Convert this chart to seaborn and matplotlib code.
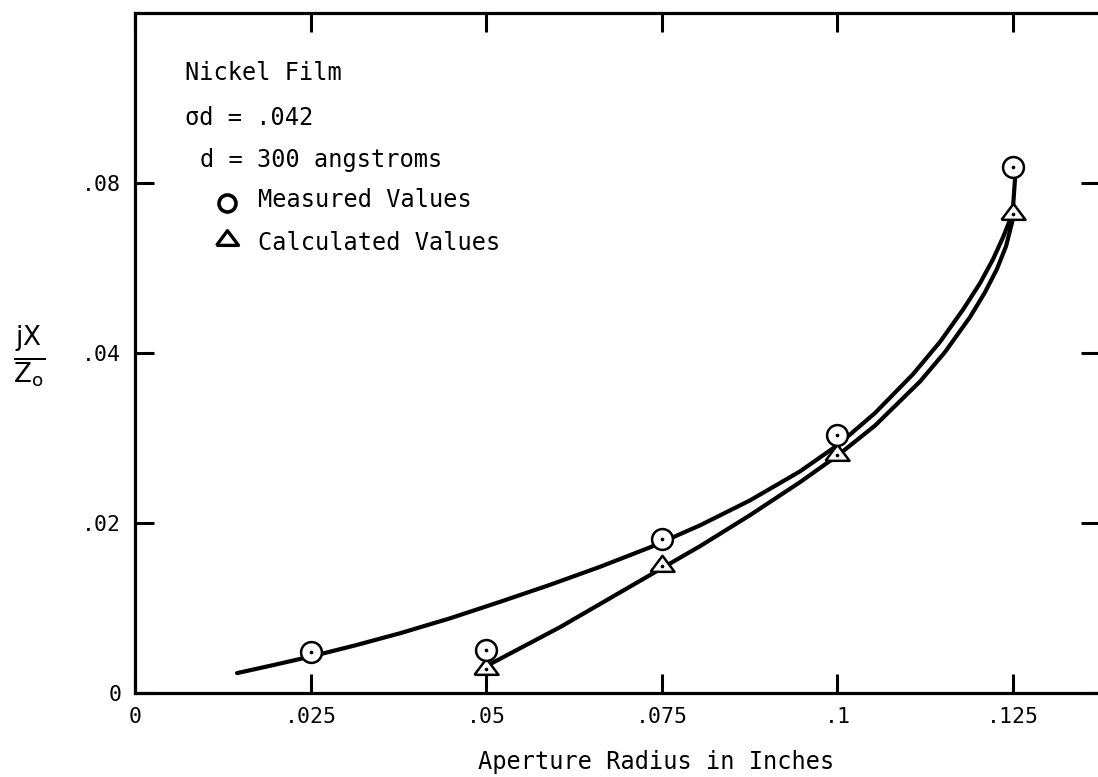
import matplotlib
matplotlib.use("Agg")
import numpy as np
import pandas as pd
import seaborn as sns
import matplotlib.pyplot as plt

# ---------------- data ----------------
x_ticks = [0, 0.025, 0.05, 0.075, 0.1, 0.125]
x_tick_labels = ["0", ".025", ".05", ".075", ".1", ".125"]
y_ticks = [0, 0.02, 0.04, 0.06]
y_tick_labels = ["0", ".02", ".04", ".08"]

measured_x = [0.025, 0.05, 0.075, 0.1, 0.125]
measured_y = [0.00482, 0.00506, 0.01812, 0.03035, 0.06188]

calculated_x = [0.05, 0.075, 0.1, 0.125]
calculated_y = [0.00282, 0.01494, 0.0280, 0.05635]

# hand-drawn curves
measured_curve_x = [0.01452, 0.01993, 0.02520, 0.03146, 0.03773, 0.04485, 0.05197,
                    0.05908, 0.06620, 0.07332, 0.08044, 0.08756, 0.09467, 0.10009,
                    0.10535, 0.11076, 0.11461, 0.11788, 0.12030, 0.12215, 0.12358,
                    0.12457, 0.12500, 0.12528]
measured_curve_y = [0.00235, 0.00334, 0.00434, 0.00564, 0.00704, 0.00880, 0.01074,
                    0.01274, 0.01486, 0.01715, 0.01974, 0.02268, 0.02609, 0.02922,
                    0.03296, 0.03753, 0.04134, 0.04513, 0.04824, 0.05106, 0.05365,
                    0.05571, 0.05729, 0.06059]
calculated_curve_x = [0.05054, 0.06051, 0.07503, 0.08044, 0.08756, 0.09467, 0.10009,
                      0.10535, 0.11176, 0.11532, 0.11888, 0.12101, 0.12272, 0.12400,
                      0.12500]
calculated_curve_y = [0.00341, 0.00776, 0.01471, 0.01729, 0.02094, 0.02482, 0.02800,
                      0.03148, 0.03667, 0.04014, 0.04426, 0.04718, 0.04993, 0.05259,
                      0.05588]

notes = ["Nickel Film", "\u03c3d = .042", "d = 300 angstroms"]
legend_labels = ["Measured Values", "Calculated Values"]
x_label = "Aperture Radius in Inches"

# ---------------- style ----------------
sns.set_style("ticks")
plt.rcParams["font.family"] = ["DejaVu Sans Mono", "DejaVu Sans"]
plt.rcParams["mathtext.fontset"] = "dejavusans"
for k in ["text.color", "axes.labelcolor", "xtick.color", "ytick.color", "axes.edgecolor"]:
    plt.rcParams[k] = "black"

fig = plt.figure(figsize=(10.98, 7.77), dpi=100)
ax = fig.add_axes([0.123, 0.108, 0.879, 0.875])

mc = pd.DataFrame({"x": measured_curve_x, "y": measured_curve_y})
cc = pd.DataFrame({"x": calculated_curve_x, "y": calculated_curve_y})
for df in (mc, cc):
    sns.lineplot(data=df, x="x", y="y", sort=False, estimator=None, color="black",
                 linewidth=3.0, ax=ax, zorder=2, solid_joinstyle="round",
                 solid_capstyle="round")

tri = [(-1.0, -0.444), (1.0, -0.444), (0.0, 0.889), (-1.0, -0.444)]

md = pd.DataFrame({"x": measured_x, "y": measured_y})
cd = pd.DataFrame({"x": calculated_x, "y": calculated_y})
sns.scatterplot(data=cd, x="x", y="y", marker=tri, s=300, facecolor="white",
                edgecolor="black", linewidth=1.8, ax=ax, zorder=3)
sns.scatterplot(data=md, x="x", y="y", marker="o", s=225, facecolor="white",
                edgecolor="black", linewidth=1.8, ax=ax, zorder=4)
sns.scatterplot(data=cd, x="x", y="y", marker="o", s=7, color="black",
                linewidth=0, ax=ax, zorder=5)
sns.scatterplot(data=md, x="x", y="y", marker="o", s=7, color="black",
                linewidth=0, ax=ax, zorder=5)

ax.set_xlim(0, 0.1374)
ax.set_ylim(0, 0.08)
ax.set_xticks(x_ticks)
ax.set_xticklabels(x_tick_labels)
ax.set_yticks(y_ticks)
ax.set_yticklabels(y_tick_labels)
ax.tick_params(direction="in", length=14, width=2.2, top=True, right=True,
               labelsize=15.5, pad=10, colors="black")
for sp in ax.spines.values():
    sp.set_linewidth(2.3)
    sp.set_color("black")
    sp.set_visible(True)

ax.set_xlabel(x_label, fontsize=17)
ax.xaxis.set_label_coords(0.54, -0.083)
ax.set_ylabel("")

fig.text(29 / 1098, 1 - 357 / 777, r"$\frac{\mathrm{jX}}{\mathrm{Z}_{\mathrm{o}}}$",
         fontsize=27, ha="center", va="center")

# annotation block
ax.text(0.0518, 0.9118, notes[0], transform=ax.transAxes, fontsize=17, va="center")
ax.text(0.0518, 0.8456, notes[1], transform=ax.transAxes, fontsize=17, va="center")
ax.text(0.0674, 0.7838, notes[2], transform=ax.transAxes, fontsize=17, va="center")
ax.scatter([0.0953], [0.7206], transform=ax.transAxes, marker="o", s=150,
           facecolor="white", edgecolor="black", linewidth=2.6, zorder=4)
ax.scatter([0.0953], [0.666], transform=ax.transAxes, marker=tri, s=250,
           facecolor="white", edgecolor="black", linewidth=2.4, zorder=4)
ax.text(0.1275, 0.725, legend_labels[0], transform=ax.transAxes, fontsize=17, va="center")
ax.text(0.1275, 0.6618, legend_labels[1], transform=ax.transAxes, fontsize=17, va="center")

fig.savefig("out.png", dpi=100)
